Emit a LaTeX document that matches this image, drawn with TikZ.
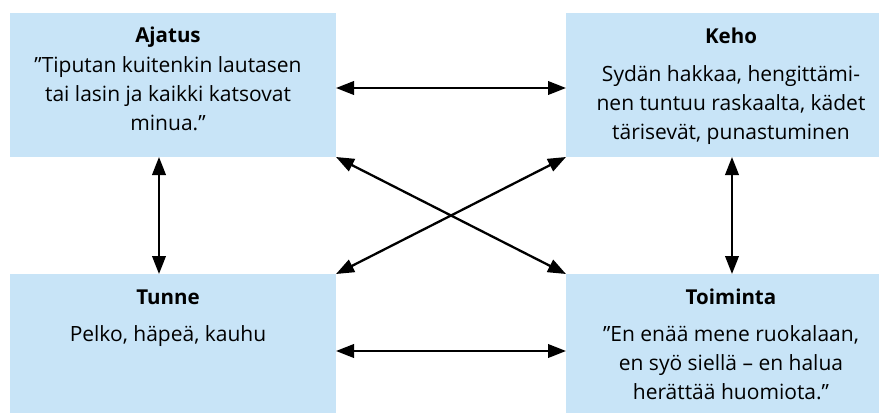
\documentclass[tikz,border=0pt]{standalone}
\usepackage{fontspec}
\setmainfont{Open Sans}
\usetikzlibrary{arrows.meta}
\definecolor{boxblue}{RGB}{200,228,247}
\tikzset{
  panel/.style={fill=boxblue, draw=none, inner sep=0pt, outer sep=0pt,
                minimum width=#1},
  panel/.default=326pt,
  heading/.style={anchor=base, inner sep=0pt, font=\fontsize{20.5}{29}\selectfont\bfseries},
  bodytext/.style={anchor=base, inner sep=0pt, font=\fontsize{21}{29}\selectfont},
  conn/.style={line width=2.3pt, {Triangle[length=18pt,width=13.5pt]}-{Triangle[length=18pt,width=13.5pt]}}
}
\newcommand{\lines}[1]{\begin{tabular}[t]{@{}c@{}}#1\end{tabular}}
\begin{document}
\begin{tikzpicture}[x=1pt, y=-1pt]
  \useasboundingbox (0,0) rectangle (879,413);

  % four panels
  \node[panel=326pt, minimum height=144pt] (aj)   at (173,85)    {};
  \node[panel=313pt, minimum height=144pt] (keho) at (722.5,85)  {};
  \node[panel=326pt, minimum height=139pt] (tun)  at (173,343.5) {};
  \node[panel=313pt, minimum height=139pt] (toi)  at (722.5,343.5) {};

  % panel texts
  \node[heading]  (ajH)   at (168,42)  {Ajatus};
  \node[bodytext] (ajB)   at (168,72)  {\lines{”Tiputan kuitenkin lautasen\\tai lasin ja kaikki katsovat\\minua.”}};
  \node[heading]  (kehoH) at (731,43)  {Keho};
  \node[bodytext] (kehoB) at (731,81)  {\lines{Sydän hakkaa, hengittämi-\\nen tuntuu raskaalta, kädet\\tärisevät, punastuminen}};
  \node[heading]  (tunH)  at (168,304) {Tunne};
  \node[bodytext] (tunB)  at (168,341) {\lines{Pelko, häpeä, kauhu}};
  \node[heading]  (toiH)  at (731,304) {Toiminta};
  \node[bodytext] (toiB)  at (731,341) {\lines{”En enää mene ruokalaan,\\en syö siellä – en halua\\herättää huomiota.”}};

  % connections
  \draw[conn] ([yshift=-3pt]aj.east) -- ([yshift=-3pt]keho.west);
  \draw[conn] ([yshift=-7.5pt]tun.east) -- ([yshift=-7.5pt]toi.west);
  \draw[conn] ([xshift=-14pt]aj.south) -- ([xshift=-14pt]tun.north);
  \draw[conn] ([xshift=9.5pt]keho.south) -- ([xshift=9.5pt]toi.north);
  \draw[conn] (aj.south east) -- (toi.north west);
  \draw[conn] (keho.south west) -- (tun.north east);
\end{tikzpicture}
\end{document}
